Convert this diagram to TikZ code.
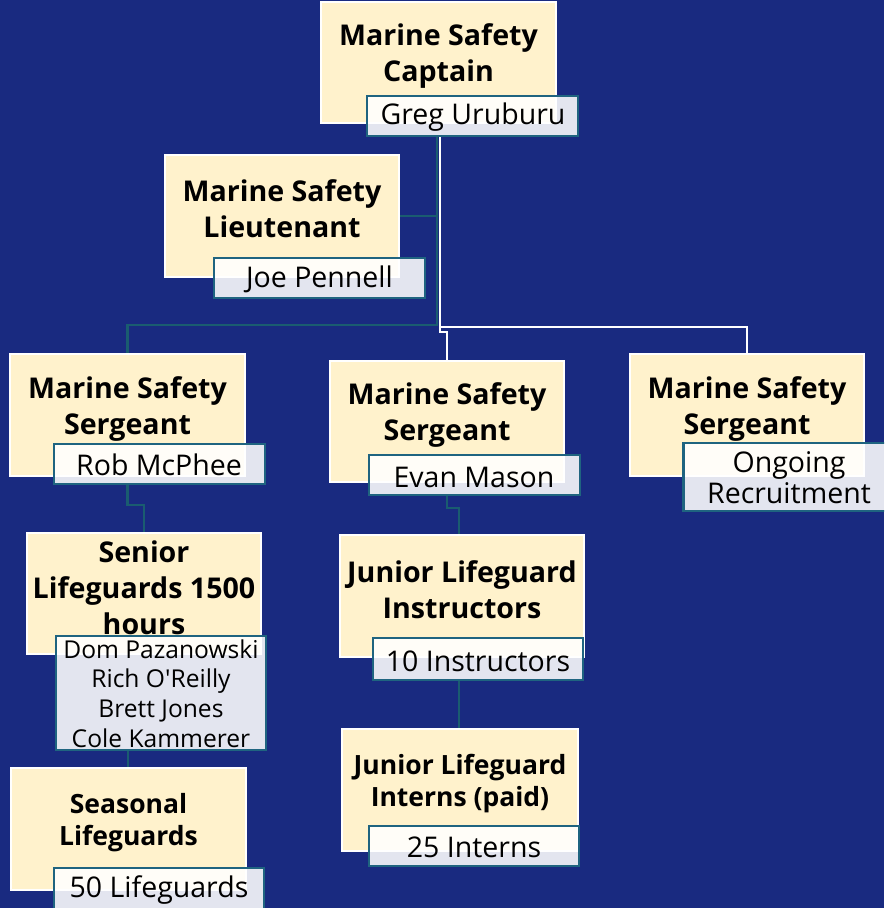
\documentclass[tikz,border=0pt]{standalone}
\usepackage{fontspec}
\usetikzlibrary{backgrounds}
\setmainfont{Open Sans}
\definecolor{navy}{RGB}{25,42,128}
\definecolor{cream}{RGB}{255,242,204}
\definecolor{tealb}{RGB}{31,100,128}
\definecolor{tealc}{RGB}{26,92,112}
\tikzset{
  titlebox/.style={draw=white, line width=1.5pt, fill=cream, inner sep=0pt},
  namebox/.style={draw=tealb, line width=2.5pt, fill=white, fill opacity=0.88, text opacity=1, inner sep=0pt},
  titletext/.style={align=center, font=\fontsize{28.6}{36}\selectfont\bfseries, text=black, yshift=-2pt},
  titlesmall/.style={align=center, font=\fontsize{26.5}{32}\selectfont\bfseries, text=black, yshift=-2pt},
  nametext/.style={align=center, font=\fontsize{28.5}{31}\selectfont, text=black, yshift=-2pt},
  namesmall/.style={align=center, font=\fontsize{24.6}{29.7}\selectfont, text=black, yshift=-1pt},
  conT/.style={draw=tealc, line width=2.2pt},
  conW/.style={draw=white, line width=2pt},
}
\begin{document}
\begin{tikzpicture}[x=1pt,y=-1pt]
\useasboundingbox (0,0) rectangle (884,908);
\clip (0,0) rectangle (884,908);
% title boxes
\node[titlebox, minimum width=235pt, minimum height=121pt] (cap) at (438.5,62.5) {};
\node[titlebox, minimum width=234pt, minimum height=122pt] (lt) at (282,216) {};
\node[titlebox, minimum width=235pt, minimum height=122pt] (s1) at (127.5,415) {};
\node[titlebox, minimum width=234pt, minimum height=121pt] (s2) at (447,421.5) {};
\node[titlebox, minimum width=234pt, minimum height=122pt] (s3) at (747,415) {};
\node[titlebox, minimum width=234pt, minimum height=121pt] (sr) at (144,593.5) {};
\node[titlebox, minimum width=244pt, minimum height=122pt] (ji) at (462,596) {};
\node[titlebox, minimum width=235pt, minimum height=122pt] (sea) at (128.5,829) {};
\node[titlebox, minimum width=236pt, minimum height=122pt] (jin) at (460,790) {};
% name boxes
\node[namebox, minimum width=211pt, minimum height=40pt] (capN) at (472.5,116) {};
\node[namebox, minimum width=211pt, minimum height=40pt] (ltN) at (319.5,278) {};
\node[namebox, minimum width=211pt, minimum height=40pt] (s1N) at (159.5,464) {};
\node[namebox, minimum width=211pt, minimum height=40pt] (s2N) at (474.5,475) {};
\node[namebox, minimum width=211pt, minimum height=68pt] (s3N) at (789,477) {};
\node[namebox, minimum width=210pt, minimum height=114pt] (srN) at (161,693) {};
\node[namebox, minimum width=210pt, minimum height=42pt] (jiN) at (478,659) {};
\node[namebox, minimum width=210pt, minimum height=42pt] (seaN) at (159,889) {};
\node[namebox, minimum width=210pt, minimum height=40pt] (jinN) at (474,846) {};
% connector helpers
\coordinate (hT) at (0,325);
\coordinate (hW) at (0,327);
\coordinate (hW2) at (0,332);
\coordinate (vT) at (437,0);
\coordinate (vW) at (440,0);
\coordinate (h1) at (0,505);
\coordinate (h2) at (0,508);
\coordinate (vji) at (459,0);
\coordinate (vsea) at (128,0);
% background and connectors
\begin{scope}[on background layer]
\fill[navy] (0,0) rectangle (884,908);
% teal: captain -> lieutenant, sergeant 1
\draw[conT] (capN.south -| vT) -- (vT |- hT) -- (s1.north |- hT) -- (s1.north);
\draw[conT] (lt.east) -- (lt.east -| vT);
% white: captain -> sergeant 3, sergeant 2
\draw[conW] (capN.south -| vW) -- (vW |- hW) -- (s3.north |- hW) -- (s3.north);
\draw[conW] (vW |- hW) -- (vW |- hW2) -- (s2.north |- hW2) -- (s2.north);
% lower teal
\draw[conT] (s1N.south -| s1.south) -- (s1.south |- h1) -- (sr.north |- h1) -- (sr.north);
\draw[conT] (s2N.south -| s2.south) -- (s2.south |- h2) -- (vji |- h2) -- (vji |- ji.north);
\draw[conT] (srN.south -| vsea) -- (vsea |- sea.north);
\draw[conT] (jiN.south -| vji) -- (vji |- jin.north);
\end{scope}
% texts
\node[titletext] (capT) at (438.5,54) {Marine Safety\\Captain};
\node[titletext] (ltT) at (282,207) {Marine Safety\\Lieutenant};
\node[titletext] (s1T) at (127.5,406.5) {Marine Safety\\Sergeant};
\node[titletext] (s2T) at (447,413) {Marine Safety\\Sergeant};
\node[titletext] (s3T) at (747,406.5) {Marine Safety\\Sergeant};
\node[titletext] (srT) at (144,585.5) {Senior\\Lifeguards 1500\\hours};
\node[titletext] (jiT) at (462,587.5) {Junior Lifeguard\\Instructors};
\node[titlesmall] (seaT) at (128.5,821) {Seasonal\\Lifeguards};
\node[titlesmall] (jinT) at (460,782) {Junior Lifeguard\\Interns (paid)};
\node[nametext] (capNT) at (473,115) {Greg Uruburu};
\node[nametext] (ltNT) at (319.5,277) {Joe Pennell};
\node[nametext] (s1NT) at (159,463) {Rob McPhee};
\node[nametext] (s2NT) at (474,475) {Evan Mason};
\node[nametext] (s3NT) at (789,475.5) {Ongoing\\Recruitment};
\node[namesmall] (srNT) at (161,692.5) {Dom Pazanowski\\Rich O\textquotesingle Reilly\\Brett Jones\\Cole Kammerer};
\node[nametext] (jiNT) at (478,659) {10 Instructors};
\node[nametext] (jinNT) at (474,845) {25 Interns};
\node[nametext] (seaNT) at (159,888) {50 Lifeguards};
\end{tikzpicture}
\end{document}
